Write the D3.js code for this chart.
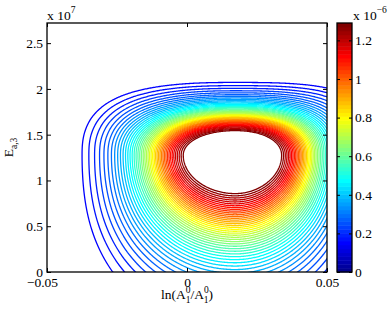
<!DOCTYPE html>
<html>
<head>
<meta charset="utf-8">
<script src="https://cdn.jsdelivr.net/npm/d3@7"></script>
<style>
body { margin: 0; background: #fff; }
svg { display: block; font-family: "Liberation Serif", "Times New Roman", serif; font-size: 13.5px; }
</style>
</head>
<body>
<div id="container"></div>
<script>
// Axis ranges and ticks (y in units of 10^7, colour in units of 10^-6)
const xDomain = [-0.05, 0.05];
const yDomain = [0, 2.72];
const cDomain = [0, 1.29];
const xTicks = [-0.05, 0, 0.05];
const yTicks = [0, 0.5, 1, 1.5, 2, 2.5];
const cTicks = [0, 0.2, 0.4, 0.6, 0.8, 1, 1.2];

// Contour levels (x 10^-6)
const levels = [0.15, 0.175, 0.2, 0.225, 0.25, 0.275, 0.3, 0.325, 0.35, 0.375,
    0.4, 0.425, 0.45, 0.475, 0.5, 0.525, 0.55, 0.575, 0.6, 0.625,
    0.65, 0.675, 0.7, 0.725, 0.75, 0.775, 0.8, 0.825, 0.85, 0.875,
    0.9, 0.925, 0.95, 0.975, 1.0, 1.025, 1.05, 1.075, 1.1, 1.125,
    1.15, 1.175, 1.2, 1.225, 1.25, 1.275];

// Surface: peak position, plateau height,
// half-height reach to the left / right and up / down,
// fall-off steepness (sideways/up, down) and how square the upper contours get
const peakCenter = [0.017, 1.28];
const plateau = 1.45;
const reachX = [0.0311, 0.0279];
const reachY = [0.453, 0.873];
const steepness = [3.83, 2.7];
const squareness = [0.21, 0.375];

const margin = { left: 47, top: 23, right: 63, bottom: 37 };
const width = 390 - margin.left - margin.right;
const height = 309 - margin.top - margin.bottom;

const x = d3.scaleLinear().domain(xDomain).range([0, width]);
const y = d3.scaleLinear().domain(yDomain).range([height, 0]);

// MATLAB jet(64)
function jet64(k) {
    const t = (k + 1) / 64;
    const c = v => Math.round(255 * Math.max(0, Math.min(1, v)));
    return `rgb(${c(1.5 - Math.abs(4 * t - 3))},${c(1.5 - Math.abs(4 * t - 2))},${c(1.5 - Math.abs(4 * t - 1))})`;
}
function levelColor(v) {
    const k = Math.max(0, Math.min(63, Math.floor(v / cDomain[1] * 64)));
    return jet64(k);
}

function surface(px, py) {
    const dx = px - peakCenter[0];
    const dy = py - peakCenter[1];
    const u = dx < 0 ? -dx / reachX[0] : dx / reachX[1];
    const v = dy >= 0 ? dy / reachY[0] : -dy / reachY[1];
    const rho = Math.hypot(u, v);
    if (rho === 0) return plateau;
    let p = 2, q = steepness[0];
    if (dy >= 0) {
        p = 2 + (dx < 0 ? squareness[0] : squareness[1]) * rho * rho;
    } else {
        const s2 = (v / rho) * (v / rho);
        q = steepness[0] - (steepness[0] - steepness[1]) * 2 * s2 / (1 + s2);
    }
    const r = Math.pow(Math.pow(u, p) + Math.pow(v, p), 1 / p);
    return plateau / (1 + Math.pow(r, q));
}

// grid a little wider than the axes so the contour closures fall outside the clip
const nx = 309, ny = 276;
const gx = d3.scaleLinear().domain([0, nx - 1]).range([-0.055, 0.055]);
const gy = d3.scaleLinear().domain([0, ny - 1]).range([2.85, -0.15]);
const values = new Float64Array(nx * ny);
for (let j = 0; j < ny; j++) {
    for (let i = 0; i < nx; i++) {
        values[j * nx + i] = surface(gx(i), gy(j));
    }
}
const contours = d3.contours().size([nx, ny]).thresholds(levels)(values);
const path = d3.geoPath(d3.geoTransform({
    point(px, py) { this.stream.point(x(gx(px)), y(gy(py))); }
}));

const svg = d3.select("#container")
    .append("svg")
    .attr("width", 390)
    .attr("height", 309);

svg.append("defs").append("clipPath")
    .attr("id", "clip")
    .append("rect")
    .attr("width", width)
    .attr("height", height);

const plot = svg.append("g")
    .attr("transform", `translate(${margin.left},${margin.top})`);

plot.append("g")
    .attr("clip-path", "url(#clip)")
    .selectAll("path")
    .data(contours)
    .join("path")
    .attr("d", path)
    .attr("fill", "none")
    .attr("stroke", d => levelColor(d.value))
    .attr("stroke-width", 1.3)
    .attr("stroke-linejoin", "round");

const fmt = d => String(d).replace("-", "\u2212");

// axes, ticks pointing inwards
plot.append("g")
    .attr("transform", `translate(0,${height})`)
    .call(d3.axisBottom(x).tickValues(xTicks).tickSize(-4).tickPadding(5).tickFormat(fmt))
    .call(g => g.selectAll(".tick text").attr("dx", d => d < 0 ? -5 : 0));
plot.append("g")
    .call(d3.axisTop(x).tickValues(xTicks).tickSize(-4).tickFormat(""));
plot.append("g")
    .call(d3.axisLeft(y).tickValues(yTicks).tickSize(-4).tickPadding(4).tickFormat(fmt));
plot.append("g")
    .attr("transform", `translate(${width},0)`)
    .call(d3.axisRight(y).tickValues(yTicks).tickSize(-4).tickFormat(""));

plot.selectAll(".domain").remove();
plot.selectAll(".tick line").attr("stroke", "#000");
plot.selectAll(".tick text")
    .attr("fill", "#000")
    .style("font-family", "Liberation Serif, serif")
    .style("font-size", "13.5px");

plot.append("rect")
    .attr("width", width)
    .attr("height", height)
    .attr("fill", "none")
    .attr("stroke", "#000")
    .attr("stroke-width", 1.3);

// exponent labels
const ex = svg.append("text").attr("x", margin.left).attr("y", 20);
ex.append("tspan").text("x 10");
ex.append("tspan").attr("dy", -7).style("font-size", "9.5px").text("7");

// y label
const yl = svg.append("text")
    .attr("transform", `translate(13,${margin.top + height / 2})rotate(-90)`)
    .attr("text-anchor", "middle");
yl.append("tspan").text("E");
yl.append("tspan").attr("dy", 4).style("font-size", "9.5px").text("a,3");

// x label
const xl = svg.append("text")
    .attr("x", margin.left + width / 2)
    .attr("y", 299)
    .attr("text-anchor", "middle");
xl.append("tspan").text("ln(A");
xl.append("tspan").attr("dy", -6).style("font-size", "9.5px").text("0");
xl.append("tspan").attr("dx", -4.8).attr("dy", 10).style("font-size", "9.5px").text("1");
xl.append("tspan").attr("dy", -4).text("/A");
xl.append("tspan").attr("dy", -6).style("font-size", "9.5px").text("0");
xl.append("tspan").attr("dx", -4.8).attr("dy", 10).style("font-size", "9.5px").text("1");
xl.append("tspan").attr("dy", -4).text(")");

// colorbar
const cbX = 337, cbW = 15;
const c = d3.scaleLinear().domain(cDomain).range([margin.top + height, margin.top]);
const cb = svg.append("g");
cb.selectAll("rect")
    .data(d3.range(64))
    .join("rect")
    .attr("x", cbX)
    .attr("width", cbW)
    .attr("y", k => c((k + 1) / 64 * cDomain[1]))
    .attr("height", k => c(k / 64 * cDomain[1]) - c((k + 1) / 64 * cDomain[1]) + 0.5)
    .attr("fill", k => jet64(k));

svg.append("g")
    .attr("transform", `translate(${cbX + cbW},0)`)
    .call(d3.axisRight(c).tickValues(cTicks).tickSize(-3).tickPadding(3).tickFormat(fmt))
    .call(g => g.select(".domain").remove())
    .call(g => g.selectAll(".tick text").attr("fill", "#000").style("font-family", "Liberation Serif, serif").style("font-size", "13.5px"))
    .call(g => g.selectAll(".tick line").attr("stroke", "#000"));
svg.append("g")
    .attr("transform", `translate(${cbX},0)`)
    .call(d3.axisLeft(c).tickValues(cTicks).tickSize(-3).tickFormat(""))
    .call(g => g.select(".domain").remove())
    .call(g => g.selectAll(".tick line").attr("stroke", "#000"));

svg.append("rect")
    .attr("x", cbX)
    .attr("y", margin.top)
    .attr("width", cbW)
    .attr("height", height)
    .attr("fill", "none")
    .attr("stroke", "#000")
    .attr("stroke-width", 1.3);

const cx = svg.append("text").attr("x", 353).attr("y", 20);
cx.append("tspan").text("x 10");
cx.append("tspan").attr("dy", -7).style("font-size", "9.5px").text("\u22126");
</script>
</body>
</html>
